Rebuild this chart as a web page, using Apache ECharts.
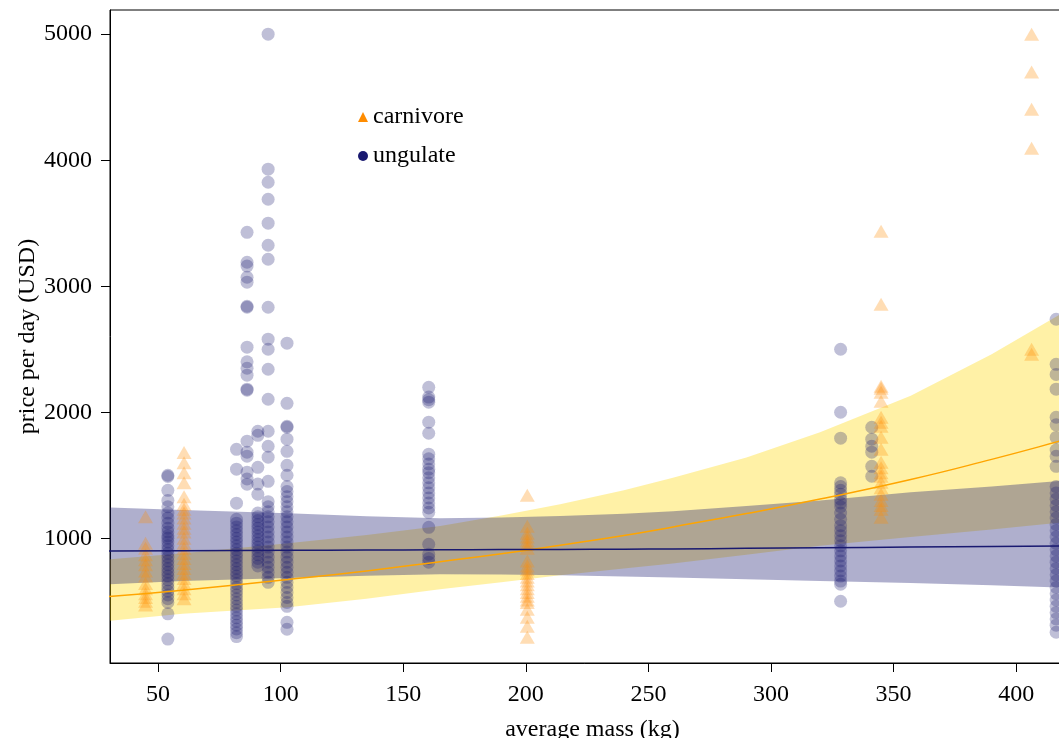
<!DOCTYPE html>
<html>
<head>
<meta charset="utf-8">
<script src="https://cdn.jsdelivr.net/npm/echarts@6/dist/echarts.min.js"></script>
<style>
  html, body { margin: 0; padding: 0; background: #fff; }
  #chart { width: 1059px; height: 738px; }
</style>
</head>
<body>
<div id="chart"></div>
<script>
// ungulate prices (USD/day) by average mass (kg)
const ungulateMass = [54, 82, 86.3, 90.7, 94.9, 102.6, 160.4, 328.4, 341.1, 416.3];
const ungulatePrices = [
  [1500, 1490, 1380, 1300, 1250, 1200, 1160, 1120, 1080, 1050, 1020, 1000, 970, 940, 910, 880, 850, 820, 790, 760, 730, 700, 670, 640, 610, 580, 550, 520, 490, 400, 200],
  [1706, 1548, 1278, 1150, 1120, 1090, 1060, 1030, 1000, 970, 940, 910, 880, 850, 820, 790, 760, 730, 700, 670, 640, 610, 580, 550, 520, 490, 460, 430, 400, 370, 340, 310, 280, 250, 220],
  [3428, 3190, 3160, 3071, 3032, 2841, 2833, 2516, 2400, 2349, 2294, 2183, 2175, 1770, 1683, 1651, 1524, 1470, 1429],
  [1849, 1817, 1563, 1430, 1349, 1200, 1170, 1140, 1110, 1080, 1050, 1020, 990, 960, 930, 900, 870, 840, 810, 780],
  [5000, 3929, 3825, 3690, 3500, 3325, 3214, 2833, 2580, 2500, 2341, 2103, 1849, 1730, 1643, 1452, 1290, 1250, 1210, 1170, 1130, 1090, 1050, 1010, 970, 930, 890, 850, 810, 770, 730, 690, 650],
  [2548, 2071, 1889, 1881, 1786, 1690, 1579, 1500, 1410, 1370, 1330, 1290, 1250, 1210, 1170, 1130, 1090, 1050, 1010, 970, 930, 890, 850, 810, 770, 730, 690, 650, 610, 570, 530, 490, 460, 333, 278],
  [2198, 2120, 2100, 2080, 1921, 1833, 1667, 1630, 1590, 1548, 1520, 1480, 1440, 1400, 1360, 1320, 1280, 1240, 1206, 1087, 952, 873, 840, 810],
  [2500, 2000, 1794, 1440, 1410, 1380, 1350, 1310, 1280, 1250, 1200, 1150, 1100, 1060, 1020, 980, 940, 900, 860, 820, 780, 740, 700, 660, 635, 500],
  [1881, 1786, 1730, 1683, 1571, 1492],
  [2738, 2380, 2300, 2183, 1960, 1900, 1800, 1700, 1650, 1571, 1410, 1360, 1310, 1260, 1210, 1160, 1110, 1060, 1010, 960, 910, 860, 810, 760, 710, 660, 610, 560, 510, 460, 410, 360, 310, 254]
];

// carnivore prices
const carnivoreMass = [44.9, 60.6, 200.6, 344.9, 406.3];
const carnivorePrices = [
  [1170, 960, 920, 870, 830, 790, 740, 700, 640, 600, 560, 530, 500, 470],
  [1680, 1600, 1520, 1440, 1330, 1270, 1230, 1200, 1160, 1120, 1080, 1050, 1000, 960, 920, 880, 840, 800, 760, 720, 680, 640, 600, 560, 520],
  [1341, 1095, 1040, 1010, 980, 950, 920, 820, 780, 750, 720, 690, 660, 630, 600, 570, 540, 510, 490, 437, 373, 302, 214],
  [3437, 2857, 2206, 2190, 2159, 2087, 1960, 1920, 1889, 1802, 1706, 1603, 1560, 1520, 1492, 1444, 1400, 1350, 1300, 1260, 1230, 1167],
  [5000, 4700, 4405, 4095, 2500, 2460]
];

// fitted lines and confidence bands, read along the mass axis
const fitMass = [30, 60, 103, 135, 165, 190, 214, 240, 260, 290, 320, 357, 390, 418, 424];
const carnivoreFit = [537, 588, 672, 740, 814, 877, 945, 1022, 1090, 1196, 1311, 1466, 1626, 1772, 1806];
const carnivoreLow = [344, 400, 452, 520, 595, 650, 706, 760, 800, 870, 940, 1010, 1070, 1124, 1135];
const carnivoreHigh = [833, 880, 960, 1025, 1098, 1180, 1270, 1380, 1480, 1640, 1841, 2130, 2460, 2778, 2850];
const ungulateFit = [899, 901, 904, 906, 908, 910, 911, 913, 915, 920, 925, 930, 935, 939, 940];
const ungulateLow = [635, 660, 685, 702, 714, 712, 706, 697, 688, 675, 661, 645, 627, 609, 605];
const ungulateHigh = [1244, 1225, 1198, 1175, 1159, 1165, 1177, 1195, 1215, 1255, 1300, 1365, 1410, 1455, 1465];

const xTicks = [50, 100, 150, 200, 250, 300, 350, 400];
const yTicks = [1000, 2000, 3000, 4000, 5000];

function columnsToPoints(masses, prices) {
  const out = [];
  masses.forEach((m, i) => prices[i].forEach(p => out.push([m, p])));
  return out;
}

// confidence band drawn as one polygon: lower edge, then upper edge back
function bandSeries(low, high, color) {
  return {
    type: 'custom',
    silent: true,
    clip: true,
    renderItem: function (params, api) {
      const pts = [];
      for (let i = 0; i < fitMass.length; i++) pts.push(api.coord([fitMass[i], low[i]]));
      for (let i = fitMass.length - 1; i >= 0; i--) pts.push(api.coord([fitMass[i], high[i]]));
      return { type: 'polygon', shape: { points: pts }, style: { fill: color } };
    },
    data: [[fitMass[1], low[1]]]
  };
}

const font = 'Liberation Serif';
const chart = echarts.init(document.getElementById('chart'));

const option = {
  animation: false,
  textStyle: { fontFamily: font },
  grid: {
    left: 110, top: 10, width: 965, height: 653,
    outerBoundsMode: 'none',
    containLabel: false,
    show: true, borderColor: '#000', borderWidth: 1, backgroundColor: 'transparent'
  },
  legend: {
    orient: 'vertical',
    left: 353,
    top: 100,
    itemWidth: 10,
    itemHeight: 10,
    itemGap: 15,
    textStyle: { fontFamily: font, fontSize: 24, color: '#000' },
    data: [
      { name: 'carnivore', icon: 'triangle', itemStyle: { color: '#ff8c00', opacity: 1 } },
      { name: 'ungulate', icon: 'circle', itemStyle: { color: '#191970', opacity: 1 } }
    ]
  },
  xAxis: {
    type: 'value',
    min: 30.4,
    max: 424,
    name: 'average mass (kg)',
    nameLocation: 'middle',
    nameGap: 55,
    nameTextStyle: { fontFamily: font, fontSize: 24, color: '#000' },
    axisLine: { show: true, onZero: false, lineStyle: { color: '#000' } },
    axisTick: { show: true, length: 9, customValues: xTicks, lineStyle: { color: '#000' } },
    axisLabel: { customValues: xTicks, margin: 20, fontFamily: font, fontSize: 24, color: '#000', formatter: v => String(v) },
    splitLine: { show: false }
  },
  yAxis: {
    type: 'value',
    min: 10,
    max: 5192,
    name: 'price per day (USD)',
    nameLocation: 'middle',
    nameGap: 70,
    nameMoveOverlap: false,
    nameTextStyle: { fontFamily: font, fontSize: 24, color: '#000' },
    axisLine: { show: true, onZero: false, lineStyle: { color: '#000' } },
    axisTick: { show: true, length: 9, customValues: yTicks, lineStyle: { color: '#000' } },
    axisLabel: { customValues: yTicks, margin: 18, fontFamily: font, fontSize: 24, color: '#000', formatter: v => String(v) },
    splitLine: { show: false }
  },
  series: [
    {
      name: 'ungulate',
      type: 'scatter',
      symbol: 'circle',
      symbolSize: 13,
      itemStyle: { color: 'rgba(25,25,112,0.35)' },
      data: columnsToPoints(ungulateMass, ungulatePrices)
    },
    {
      name: 'carnivore',
      type: 'scatter',
      symbol: 'triangle',
      symbolSize: [15, 13],
      itemStyle: { color: 'rgba(255,140,0,0.37)' },
      data: columnsToPoints(carnivoreMass, carnivorePrices)
    },
    bandSeries(carnivoreLow, carnivoreHigh, 'rgba(255,215,0,0.35)'),
    {
      type: 'line',
      smooth: true,
      symbol: 'none',
      silent: true,
      lineStyle: { color: '#ffa500', width: 1.5 },
      data: fitMass.map((m, i) => [m, carnivoreFit[i]])
    },
    bandSeries(ungulateLow, ungulateHigh, 'rgba(25,25,112,0.35)'),
    {
      type: 'line',
      smooth: true,
      symbol: 'none',
      silent: true,
      lineStyle: { color: '#191970', width: 1.5 },
      data: fitMass.map((m, i) => [m, ungulateFit[i]])
    }
  ]
};

chart.setOption(option);
</script>
</body>
</html>
